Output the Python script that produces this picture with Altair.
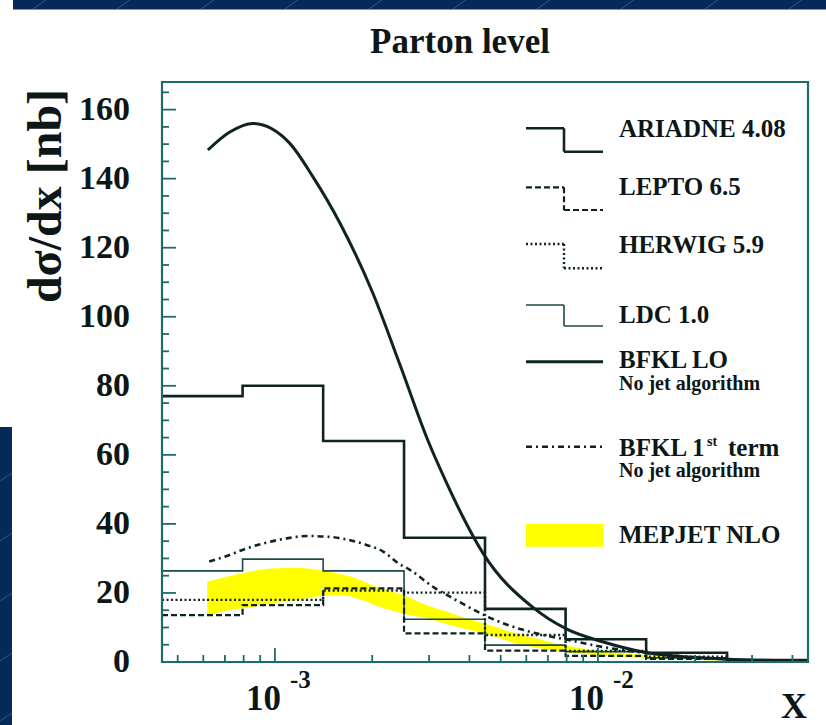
import altair as alt
import pandas as pd

# ---------------------------------------------------------------- data
# quarter-decade bin edges in x
x_edges = [4.47e-4, 7.94e-4, 1.41e-3, 2.51e-3, 4.47e-3, 7.94e-3, 1.41e-2, 2.51e-2, 4.47e-2]

# Monte Carlo histograms, dsigma/dx [nb] per bin
ariadne = [77.0, 80.0, 64.0, 36.0, 15.4, 6.6, 2.7, 0.6]
lepto = [13.6, 16.5, 21.3, 8.3, 3.3, 1.8, 0.9, 0.3]
herwig = [18.0, 18.0, 20.7, 20.1, 7.8, 3.2, 1.5, 0.4]
ldc = [26.4, 29.8, 26.4, 12.4, 4.9, 3.0, 1.2, 0.4]

# BFKL leading order
bfkl_lo_x = [6.20e-4, 7.25e-4, 8.54e-4, 1.11e-3, 1.31e-3, 1.59e-3, 2.01e-3, 2.44e-3,
             2.98e-3, 3.41e-3, 3.82e-3, 4.40e-3, 6.29e-3, 8.01e-3, 1.04e-2, 1.38e-2,
             2.07e-2, 3.17e-2, 4.47e-2]
bfkl_lo_y = [148.3, 153.5, 156.0, 150.3, 140.6, 127.1, 106.8, 86.0,
             64.0, 51.6, 42.0, 31.6, 15.8, 9.5, 5.8, 2.9,
             1.2, 0.5, 0.2]

# BFKL first term
bfkl1_x = [6.26e-4, 7.09e-4, 8.17e-4, 9.42e-4, 1.087e-3, 1.253e-3, 1.445e-3, 1.666e-3,
           1.921e-3, 2.163e-3, 2.407e-3, 2.617e-3, 3.083e-3, 3.66e-3, 4.25e-3, 4.63e-3,
           5.23e-3, 6.03e-3, 6.95e-3, 8.18e-3, 1.014e-2, 1.349e-2, 2.07e-2, 2.47e-2]
bfkl1_y = [29.1, 30.7, 32.9, 34.6, 35.8, 36.5, 36.3, 35.5,
           33.9, 32.0, 28.6, 26.7, 21.8, 17.8, 14.5, 12.8,
           10.8, 9.0, 7.6, 6.3, 4.5, 2.8, 1.3, 0.9]

# MEPJET NLO band
mepjet_x = [6.17e-4, 7.09e-4, 8.36e-4, 9.88e-4, 1.194e-3, 1.35e-3, 1.552e-3, 1.79e-3,
            2.064e-3, 2.495e-3, 2.877e-3, 3.556e-3, 4.41e-3, 5.87e-3, 7.81e-3, 1.197e-2,
            1.80e-2, 2.35e-2]
mepjet_lo = [13.1, 14.9, 15.8, 17.0, 18.0, 19.0, 19.3, 18.5,
             16.3, 14.0, 12.9, 10.5, 8.3, 4.9, 3.0, 1.4,
             0.7, 0.4]
mepjet_hi = [23.3, 24.7, 26.2, 27.1, 27.2, 26.7, 25.7, 24.2,
             21.7, 19.4, 16.9, 14.0, 11.2, 7.8, 4.9, 2.5,
             1.4, 0.9]

# axis ticks
y_labels = [0, 20, 40, 60, 80, 100, 120, 140, 160]
y_minor = [v for v in range(5, 170, 5) if v % 20]
x_major = [1e-3, 1e-2]
x_exponents = ["-3", "-2"]
x_minor = [5e-4, 6e-4, 7e-4, 8e-4, 9e-4,
           2e-3, 3e-3, 4e-3, 5e-3, 6e-3, 7e-3, 8e-3, 9e-3,
           2e-2, 3e-2, 4e-2]

# ---------------------------------------------------------------- style
W, H = 646, 580
SERIF = "Liberation Serif"
INK = "#0d1717"
LINE = "#0f2323"
FRAME = "#1d6b6b"
NAVY = "#04295a"

xs = alt.Scale(type="log", domain=[x_edges[0], x_edges[-1]])
ys = alt.Scale(domain=[0, 168])
one = alt.Data(values=[{"k": 0}])


def hist_frame(vals):
    return pd.DataFrame({"x": x_edges, "y": list(vals) + [vals[-1]]})


def hist(vals, width, color=LINE, dash=None):
    kw = dict(interpolate="step-after", color=color, strokeWidth=width,
              strokeCap="butt", strokeJoin="miter")
    if dash:
        kw["strokeDash"] = dash
    return alt.Chart(hist_frame(vals)).mark_line(**kw).encode(
        x=alt.X("x:Q", scale=xs, axis=None),
        y=alt.Y("y:Q", scale=ys, axis=None),
    )


def rule(x1, y1, x2, y2, color=LINE, width=2.0, dash=None, opacity=1.0):
    kw = dict(color=color, strokeWidth=width, opacity=opacity, strokeCap="butt")
    if dash:
        kw["strokeDash"] = dash
    return alt.Chart(one).mark_rule(**kw).encode(
        x=alt.value(x1), y=alt.value(y1), x2=alt.value(x2), y2=alt.value(y2)
    )


def text(s, x, y, size, align="left", angle=0, baseline="alphabetic"):
    return alt.Chart(one).mark_text(
        font=SERIF, fontWeight="bold", fontSize=size, color=INK,
        align=align, baseline=baseline, angle=angle,
    ).encode(x=alt.value(x), y=alt.value(y), text=alt.value(s))


# ---------------------------------------------------------------- layers
band = alt.Chart(pd.DataFrame({"x": mepjet_x, "lo": mepjet_lo, "hi": mepjet_hi})).mark_area(
    color="#ffff00", opacity=1, interpolate="monotone"
).encode(
    x=alt.X("x:Q", scale=xs, axis=None),
    y=alt.Y("hi:Q", scale=ys, axis=None),
    y2="lo:Q",
)

h_ldc = hist(ldc, 1.6, color="#1a4a4a")
h_herwig = hist(herwig, 2.4, dash=[2, 2.5])
h_lepto = hist(lepto, 2.2, dash=[6, 3])
h_ariadne = hist(ariadne, 2.6)

lo_curve = alt.Chart(pd.DataFrame({"x": bfkl_lo_x, "y": bfkl_lo_y})).mark_line(
    color=LINE, strokeWidth=3, interpolate="monotone"
).encode(x=alt.X("x:Q", scale=xs, axis=None), y=alt.Y("y:Q", scale=ys, axis=None))

first_curve = alt.Chart(pd.DataFrame({"x": bfkl1_x, "y": bfkl1_y})).mark_line(
    color=LINE, strokeWidth=2.6, strokeDash=[6, 4, 2, 4], interpolate="monotone"
).encode(x=alt.X("x:Q", scale=xs, axis=None), y=alt.Y("y:Q", scale=ys, axis=None))


# inward tick marks
def xticks(vals, length):
    return alt.Chart(pd.DataFrame({"v": vals})).mark_rule(color=FRAME, strokeWidth=1.8).encode(
        x=alt.X("v:Q", scale=xs, axis=None), y=alt.value(H), y2=alt.value(H - length)
    )


def yticks(vals, length):
    return alt.Chart(pd.DataFrame({"v": vals})).mark_rule(color=FRAME, strokeWidth=1.8).encode(
        y=alt.Y("v:Q", scale=ys, axis=None), x=alt.value(0), x2=alt.value(length)
    )


ticks = [xticks(x_major, 14), xticks(x_minor, 7), yticks(y_labels, 14), yticks(y_minor, 7)]

# y tick labels
y_text = alt.Chart(pd.DataFrame({"v": y_labels})).mark_text(
    font=SERIF, fontWeight="bold", fontSize=34, color=INK, align="right",
    baseline="middle",
).encode(y=alt.Y("v:Q", scale=ys, axis=None), x=alt.value(-32), text=alt.Text("v:Q", format="d"))

# x axis labels: "10" with raised exponent
xlab = pd.DataFrame({"v": x_major, "e": x_exponents})
x_tens = alt.Chart(xlab).mark_text(
    font=SERIF, fontWeight="bold", fontSize=35, color=INK, align="right", dx=6,
    baseline="alphabetic",
).encode(x=alt.X("v:Q", scale=xs, axis=None), y=alt.value(628), text=alt.value("10"))
x_exp = alt.Chart(xlab).mark_text(
    font=SERIF, fontWeight="bold", fontSize=25, color=INK, align="left", dx=15,
    baseline="alphabetic",
).encode(x=alt.X("v:Q", scale=xs, axis=None), y=alt.value(606), text="e:N")

texts = [
    text("Parton level", 298, -29, 35, align="center"),
    text("dσ/dx [nb]", -115, 114, 48, align="center", angle=270, baseline="middle"),
    text("X", W - 1, 636, 36, align="right"),
]

# plot frame
frame = alt.Chart(one).mark_rect(filled=False, stroke=FRAME, strokeWidth=2.2).encode(
    x=alt.value(0), x2=alt.value(W), y=alt.value(0), y2=alt.value(H)
)

# ---------------------------------------------------------------- legend
LX0, LX1, LX2 = 364, 402, 441
TX = 457


def step_symbol(yt, yb, width, color=LINE, dash=None):
    return [
        rule(LX0, yt, LX1, yt, color, width, dash),
        rule(LX1, yt, LX1, yb, color, width, dash),
        rule(LX1, yb, LX2, yb, color, width, dash),
    ]


legend = []
legend += step_symbol(46.3, 69.7, 2.6)
legend.append(text("ARIADNE 4.08", TX, 54.7, 25))
legend += step_symbol(105.3, 128, 2.2, dash=[6, 3])
legend.append(text("LEPTO 6.5", TX, 113, 25))
legend += step_symbol(162, 186.3, 2.4, dash=[2, 2.5])
legend.append(text("HERWIG 5.9", TX, 170.7, 25))
legend += step_symbol(223, 244, 1.6, color="#1a4a4a")
legend.append(text("LDC 1.0", TX, 240.7, 25))
legend.append(rule(LX0, 279.7, LX2, 279.7, LINE, 3))
legend.append(text("BFKL LO", TX, 286, 25))
legend.append(text("No jet algorithm", TX, 308, 20))
legend.append(rule(LX0, 364.7, LX2, 364.7, LINE, 2.6, [6, 4, 2, 4]))
legend.append(text("BFKL 1", TX, 374, 25))
legend.append(text("st", 545, 364, 14))
legend.append(text("term", 566, 374, 25))
legend.append(text("No jet algorithm", TX, 394.7, 20))
legend.append(
    alt.Chart(one).mark_rect(color="#ffff00").encode(
        x=alt.value(LX0), x2=alt.value(LX2), y=alt.value(442), y2=alt.value(464.7)
    )
)
legend.append(text("MEPJET NLO", TX, 461.3, 25))

# ---------------------------------------------------------------- page border
deco = [
    alt.Chart(one).mark_rect(color=NAVY).encode(
        x=alt.value(-149), x2=alt.value(W + 18), y=alt.value(-82), y2=alt.value(-72.5)
    ),
    alt.Chart(one).mark_rect(color=NAVY).encode(
        x=alt.value(-162), x2=alt.value(-150), y=alt.value(345), y2=alt.value(H + 63)
    ),
]
for cx in range(39, 826, 84):
    deco.append(rule(cx - 162 - 7, -72.5, cx - 162 + 7, -82, "#5b7ea8", 0.8, opacity=0.7))
for cy in range(477, 725, 60):
    deco.append(rule(-162, cy - 82 + 4, -150, cy - 82 - 4, "#5b7ea8", 0.8, opacity=0.7))

chart = alt.layer(
    band, h_ldc, h_herwig, h_lepto, h_ariadne, lo_curve, first_curve,
    *ticks, frame, y_text, x_tens, x_exp, *texts, *legend, *deco,
).properties(
    width=W, height=H,
    background="white",
    autosize=alt.AutoSizeParams(type="none"),
    padding={"left": 162, "top": 82, "right": 18, "bottom": 63},
).configure_view(stroke=None)

chart.save("out.html", embed_options={"renderer": "svg", "actions": False})
